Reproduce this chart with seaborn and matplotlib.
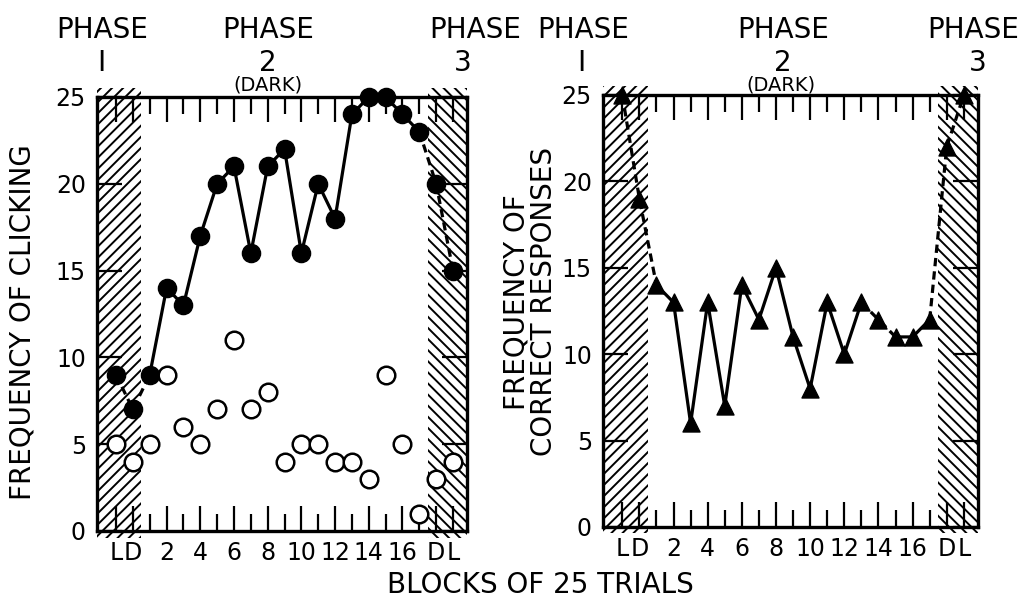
import matplotlib
matplotlib.use("Agg")
import matplotlib.pyplot as plt
import seaborn as sns

# block positions: L, D (phase 1), blocks 1-17 (phase 2, dark), D, L (phase 3)
positions = list(range(1, 22))
tick_pos = [1, 2, 4, 6, 8, 10, 12, 14, 16, 18, 20, 21]
tick_labels = ["L", "D", "2", "4", "6", "8", "10", "12", "14", "16", "D", "L"]
minor_pos = [3, 5, 7, 9, 11, 13, 15, 17, 19]

# left panel: frequency of clicking (filled) and open circles
clicking = [9, 7, 9, 14, 13, 17, 20, 21, 16, 21, 22, 16, 20, 18, 24, 25, 25, 24, 23, 20, 15]
clicking_open = [5, 4, 5, 9, 6, 5, 7, 11, 7, 8, 4, 5, 5, 4, 4, 3, 9, 5, 1, 3, 4]

# right panel: frequency of correct responses
correct = [25, 19, 14, 13, 6, 13, 7, 14, 12, 15, 11, 8, 13, 10, 13, 12, 11, 11, 12, 22, 25]

sns.set_style("ticks")
plt.rcParams["font.family"] = ["DejaVu Sans"]
plt.rcParams["hatch.linewidth"] = 1.4
for k in ("text.color", "axes.labelcolor", "xtick.color", "ytick.color", "axes.edgecolor"):
    plt.rcParams[k] = "black"

W, H = 1021, 604
fig = plt.figure(figsize=(W / 100, H / 100), dpi=100)


def px_box(x0, y0, x1, y1):
    return [x0 / W, 1 - y1 / H, (x1 - x0) / W, (y1 - y0) / H]


def setup_axes(ax):
    ax.set_xlim(-0.13, 21.83)
    ax.set_ylim(0, 25)
    # shaded light phases
    ax.axvspan(-0.13, 2.5, ymin=-0.015, ymax=1.02, facecolor="white", edgecolor="black",
               hatch="///", linewidth=0, zorder=0, clip_on=False)
    ax.axvspan(19.5, 21.83, ymin=-0.015, ymax=1.02, facecolor="white", edgecolor="black",
               hatch="\\\\\\", linewidth=0, zorder=0, clip_on=False)
    ax.set_xticks(tick_pos)
    ax.set_xticklabels(tick_labels)
    ax.set_xticks(minor_pos, minor=True)
    ax.set_yticks([0, 5, 10, 15, 20, 25])
    ax.tick_params(axis="both", which="both", direction="in", top=True, right=True,
                   labeltop=False, labelright=False, width=1.6, labelsize=17,
                   color="black", labelcolor="black")
    ax.tick_params(axis="x", which="major", length=18, pad=7)
    ax.tick_params(axis="x", which="minor", length=12)
    ax.tick_params(axis="y", which="major", length=18, pad=8)
    for s in ax.spines.values():
        s.set_linewidth(2.4)
        s.set_color("black")
        s.set_zorder(5)


def draw_line(ax, vals, segments):
    for a, b, ls in segments:
        sns.lineplot(x=positions[a:b + 1], y=vals[a:b + 1], ax=ax, color="black",
                     linewidth=2.3, linestyle=ls, sort=False, estimator=None, zorder=2)


ax1 = fig.add_axes(px_box(97, 97, 467, 531))
ax2 = fig.add_axes(px_box(603, 95, 978, 527))
setup_axes(ax1)
setup_axes(ax2)

dash = (0, (2.6, 1.6))
draw_line(ax1, clicking, [(0, 2, dash), (2, 18, "-"), (18, 20, dash)])
sns.scatterplot(x=positions, y=clicking, ax=ax1, s=170, color="black", edgecolor="black",
                marker="o", zorder=4, clip_on=False, legend=False)
sns.scatterplot(x=positions, y=clicking_open, ax=ax1, s=160, color="white", edgecolor="black",
                linewidth=1.8, marker="o", zorder=4, clip_on=False, legend=False)

draw_line(ax2, correct, [(0, 2, dash), (2, 14, "-"), (14, 16, dash), (16, 18, "-"), (18, 20, dash)])
sns.scatterplot(x=positions, y=correct, ax=ax2, s=150, color="black", edgecolor="black",
                marker="^", zorder=4, clip_on=False, legend=False)
for ax in (ax1, ax2):
    ax.set_xlabel("")
    ax.set_ylabel("")


def ftext(x, y, s, size=20, **kw):
    fig.text(x / W, 1 - y / H, s, fontsize=size, ha="center", va="center", color="black", **kw)


# phase headers
ftext(102, 30, "PHASE")
ftext(101, 63, "I")
ftext(268, 30, "PHASE")
ftext(268, 63, "2")
ftext(268, 85, "(DARK)", size=14)
ftext(475, 30, "PHASE")
ftext(463, 63, "3")

ftext(583, 30, "PHASE")
ftext(581, 63, "I")
ftext(783, 30, "PHASE")
ftext(783, 63, "2")
ftext(781, 85, "(DARK)", size=14)
ftext(973, 30, "PHASE")
ftext(978, 63, "3")

# axis labels
ftext(23, 322, "FREQUENCY OF CLICKING", rotation=90)
ftext(530, 302, "FREQUENCY OF\nCORRECT RESPONSES", rotation=90, linespacing=1.0)
ftext(540, 585, "BLOCKS OF 25 TRIALS", size=20)

fig.savefig("out.png", dpi=100, facecolor="white")
